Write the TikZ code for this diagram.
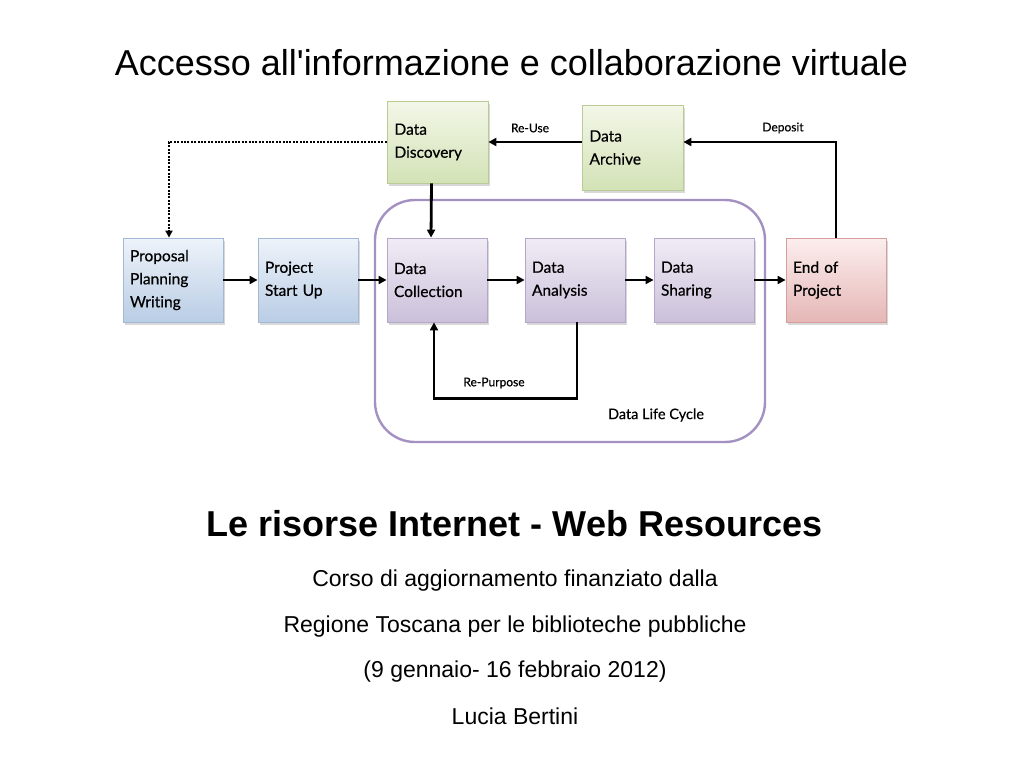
\documentclass[tikz,border=0pt]{standalone}
\usepackage{fontspec}
\setmainfont{Liberation Sans}
\newfontfamily\boxfont{Lato}[Ligatures=NoCommon, FakeBold=0.5]
\usetikzlibrary{arrows.meta,shadows,calc}
\definecolor{blueT}{HTML}{EEF3FA}
\definecolor{blueB}{HTML}{B9CDE5}
\definecolor{blueD}{HTML}{A3B8D3}
\definecolor{greenT}{HTML}{F3F7E8}
\definecolor{greenB}{HTML}{D3E2B6}
\definecolor{greenD}{HTML}{B9CC96}
\definecolor{purpT}{HTML}{F0ECF5}
\definecolor{purpB}{HTML}{CBC0DA}
\definecolor{purpD}{HTML}{B3A6C8}
\definecolor{redT}{HTML}{FCEEEE}
\definecolor{redB}{HTML}{E5B7B6}
\definecolor{redD}{HTML}{D59E9D}
\definecolor{lcD}{HTML}{A491C2}
\begin{document}
\begin{tikzpicture}[x=1pt,y=-1pt,
  box/.style={rectangle, line width=0.8pt, minimum width=100pt, minimum height=84pt,
    text width=86pt, inner xsep=7pt, inner ysep=0pt, align=left,
    font=\boxfont\fontsize{15.5}{23}\selectfont,
    drop shadow={shadow xshift=2pt,shadow yshift=-2.5pt,opacity=0.3}},
  bluebox/.style={box, draw=blueD, top color=blueT, bottom color=blueB},
  greenbox/.style={box, draw=greenD, top color=greenT, bottom color=greenB},
  purpbox/.style={box, draw=purpD, top color=purpT, bottom color=purpB},
  redbox/.style={box, draw=redD, top color=redT, bottom color=redB},
  arr/.style={line width=2.8pt, -{Triangle[length=8pt,width=8pt]}},
  dots/.style={line width=2.4pt, dash pattern=on 2pt off 1.4pt, -{Triangle[length=7pt,width=7pt]}},
  lbl/.style={font=\boxfont\fontsize{12}{14}\selectfont, inner sep=0pt},
  lcl/.style={font=\boxfont\fontsize{14.5}{16}\selectfont, inner sep=0pt},
  lcframe/.style={draw=lcD, line width=2.4pt, rounded corners=40pt, minimum width=390pt, minimum height=242pt},
  ttl/.style={anchor=base, inner sep=0pt, font=\fontsize{36}{40}\selectfont},
  sub/.style={anchor=base, inner sep=0pt, font=\bfseries\fontsize{36}{40}\selectfont},
  txt/.style={anchor=base, inner sep=0pt, font=\fontsize{23}{26}\selectfont}]
\fill[white] (0,0) rectangle (1024,768);
\useasboundingbox (0,0) rectangle (1024,768);

\node[ttl] (title) at (511.5,75) {Accesso all\textquotesingle informazione e collaborazione virtuale};

\node[lcframe] (lc) at (570,321) {};
\node[lcl] (lcname) at (656,415) {Data Life Cycle};

\node[greenbox, minimum width=101pt, minimum height=82pt] (disc) at (437.5,142) {Data\\Discovery};
\node[greenbox, minimum width=101pt, minimum height=85pt] (arch) at (632.5,147.5) {Data\\Archive};
\node[bluebox] (prop) at (173,280) {Proposal\\Planning\\Writing};
\node[bluebox] (start) at (308,280) {Project\\Start Up};
\node[purpbox] (coll) at (437,280) {Data\\Collection};
\node[purpbox] (anal) at (575,280) {Data\\Analysis};
\node[purpbox] (shar) at (704,280) {Data\\Sharing};
\node[redbox] (end) at (836,280) {End of\\Project};

\draw[arr] (prop.east) -- (start.west);
\draw[arr] (start.east) -- (coll.west);
\draw[arr] (coll.east) -- (anal.west);
\draw[arr] (anal.east) -- (shar.west);
\draw[arr] (shar.east) -- (end.west);
\draw[arr] ([xshift=-6pt]disc.south) -- ([xshift=-6pt]coll.north);
\draw[arr] (arch.west |- disc.east) -- (disc.east);
\draw[arr] (end.north) |- (arch.east |- disc.east);
\draw[dots] (disc.west) -| ([xshift=-4pt]prop.north);
\draw[arr] ([xshift=2pt]anal.south) -- ++(0,76) -| ([xshift=-3pt]coll.south);

\node[lbl] (reuse) at (530,128) {Re-Use};
\node[lbl] (deposit) at (783,128) {Deposit};
\node[lbl] (repurpose) at (494,383) {Re-Purpose};

\node[sub] (heading) at (514.5,536) {Le risorse Internet - Web Resources};
\node[txt] (l1) at (515,586) {Corso di aggiornamento finanziato dalla};
\node[txt] (l2) at (515,632) {Regione Toscana per le biblioteche pubbliche};
\node[txt] (l3) at (515,677) {(9 gennaio- 16 febbraio 2012)};
\node[txt] (l4) at (515,724) {Lucia Bertini};
\end{tikzpicture}
\end{document}
